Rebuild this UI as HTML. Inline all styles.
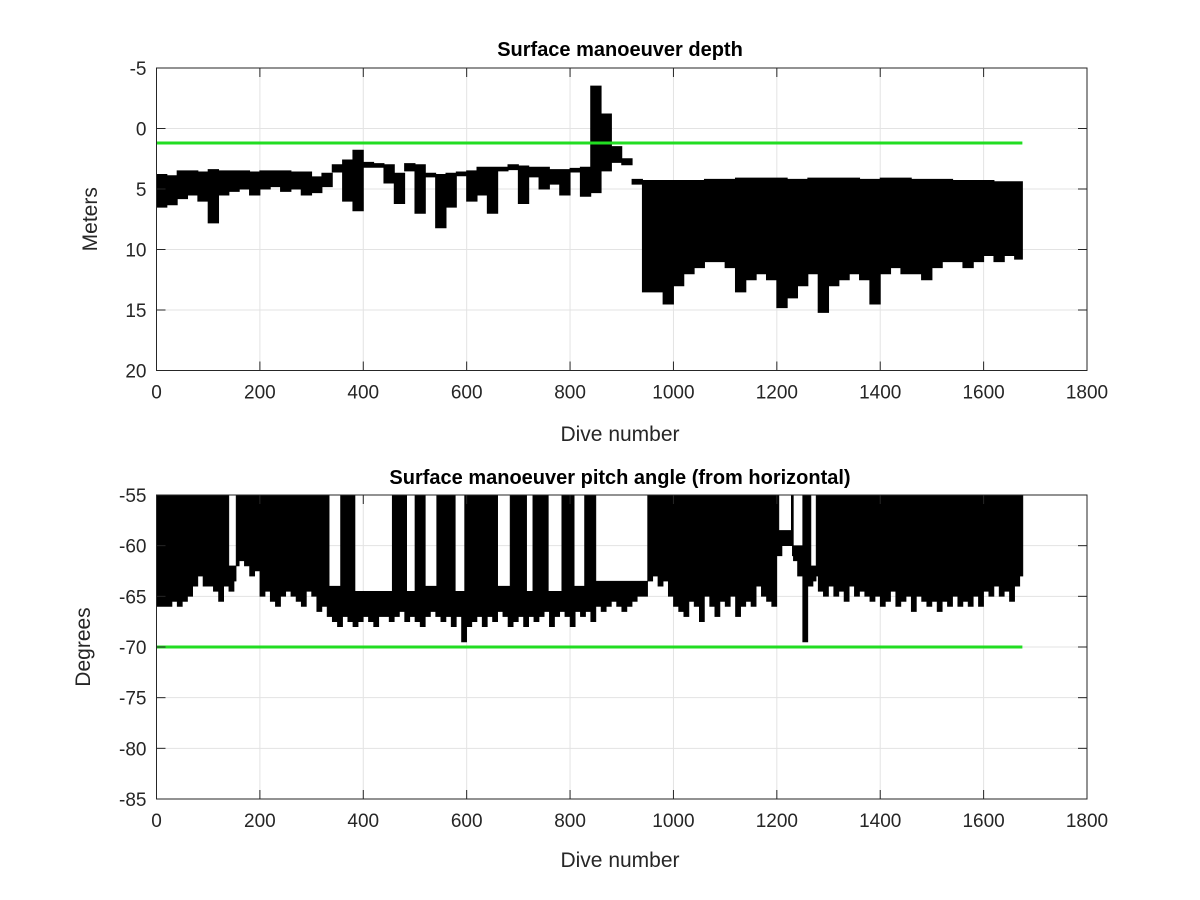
<!DOCTYPE html>
<html><head><meta charset="utf-8"><style>
html,body{margin:0;padding:0;background:#fff;}
svg{display:block;font-family:"Liberation Sans",Arial,sans-serif;}
</style></head><body>
<svg id="chart" width="1200" height="900" viewBox="0 0 1200 900">
<rect x="0" y="0" width="1200" height="900" fill="#fff"/>
<g id="p1"></g>
<g id="p2"></g>
</svg>
<script>
const xTicks = [0,200,400,600,800,1000,1200,1400,1600,1800];
const depthTicks = [-5,0,5,10,15,20];
const pitchTicks = [-55,-60,-65,-70,-75,-80,-85];
const depthThreshold = 1.2;
const pitchThreshold = -70;
const lastDive = 1675;
const depthBinSize = 20;
const depthTop = [3.8,3.9,3.5,3.5,3.6,3.4,3.5,3.5,3.5,3.6,3.5,3.5,3.5,3.6,3.6,4.0,3.7,3.0,2.6,1.8,2.8,2.9,3.0,3.7,2.9,3.0,3.7,3.8,3.7,3.6,3.5,3.2,3.2,3.2,3.0,3.1,3.2,3.2,3.4,3.4,3.3,3.2,-3.5,-1.2,1.5,2.5,4.2,
4.3,4.3,4.3,4.3,4.3,4.3,4.2,4.2,4.2,4.1,4.1,4.1,4.1,4.1,4.2,4.2,4.1,4.1,4.1,4.1,4.1,4.2,4.2,4.1,4.1,4.1,4.2,4.2,4.2,4.2,4.3,4.3,4.3,4.3,4.4,4.4,4.4];
const depthBottom = [6.5,6.3,5.8,5.5,6.0,7.8,5.5,5.2,5.0,5.5,5.0,4.8,5.2,5.0,5.5,5.3,4.8,3.6,6.0,6.8,3.2,3.2,4.5,6.2,3.5,7.0,4.0,8.2,6.5,3.9,6.0,5.5,7.0,3.5,3.4,6.2,4.0,5.0,4.6,5.5,3.6,5.6,5.3,3.5,2.8,3.0,4.6,
13.5,13.5,14.5,13,12,11.5,11,11,11.5,13.5,12.5,12,12.5,14.8,14,13,12,15.2,13,12.5,12,12.5,14.5,12,11.5,12,12,12.5,11.5,11,11,11.5,11,10.5,11,10.5,10.8];
const pitchBinSize = 10;
const pitchBottom = [-66,-66,-66,-65.5,-66,-65.5,-65,-64,-63,-64,-64,-64.5,-65.5,-64,-64.5,-62,-61.5,-62,-63,-62.5,
-65,-64.5,-65.5,-66,-65,-64.5,-65,-65.5,-66,-64.5,-65,-66.5,-66,-67,-67.5,-68,-67,-67.5,-68,-67.5,-67,-67.5,-68,-67,
-67,-67.5,-67,-66.5,-67.5,-67,-67.5,-68,-67,-66.5,-67,-67.5,-67,-68,-67,-69.5,-68,
-67.5,-67,-68,-67,-67.5,-66.5,-67,-68,-67.5,-67,-68,-67,-67.5,-67,-66.5,-68,
-67,-66.5,-67,-68,-66.5,-67,-66.5,-67.5,-66,-66.5,-66,-65.5,-66,-66.5,-66,-65.5,-65,-64.5,
-63.5,-63,-64,-63.5,-65,-66,-66.5,-67,-65.5,-66,-67.5,-65,-66,-67,-65.5,
-66,-65,-67,-66,-65.5,-66,-64,-65,-65.5,-66,-61,-59,-60,-61,-63,-69.5,
-64,-63,-64.5,-65,-64,-65,-64.5,-65.5,-64,-65,-64.5,-65,
-65.5,-65,-66,-65.5,-64.5,-66,-65.5,-65,-66.5,-65,-65.5,
-66,-65.5,-66.5,-65.5,-66,-65,-66,-65.5,-66,-65,-66,
-64.5,-65,-64,-65,-64.5,-65.5,-64,-63];
const gapStart = [140,334,384,484,520,578,660,716,757,807,850,1204,1232,1265];
const gapEnd   = [154,356,456,500,541,596,684,728,783,827,950,1227,1249,1276];
const gapTop   = [-62,-64,-64.5,-64.5,-64,-64.5,-64,-64.5,-64.5,-64,-63.5,-58.5,-60,-62];

const NS='http://www.w3.org/2000/svg';
function mk(tag,attrs,parent){const e=document.createElementNS(NS,tag);for(const k in attrs)e.setAttribute(k,attrs[k]);parent.appendChild(e);return e;}
const X0=156.5,X1=1087;
const sx=v=>X0+(v-0)/(1800-0)*(X1-X0);

function panel(g,top,bot,ymin,ymax,ticks,title,ylab,ylabX,titleY,pre){
  const sy=v=>top+(v-ymin)/(ymax-ymin)*(bot-top);
  for(const t of xTicks){const l=mk('line',{x1:sx(t),x2:sx(t),y1:top,y2:bot,stroke:'#e3e3e3','stroke-width':1},g);
    
    }
  for(const t of ticks){const l=mk('line',{x1:X0,x2:X1,y1:sy(t),y2:sy(t),stroke:'#e3e3e3','stroke-width':1},g);
    
    }
  return sy;
}
function frame(g,top,bot,ticks,sy,title,ylab,ylabX,titleY,xlY){
  const b=mk('rect',{x:X0,y:top,width:X1-X0,height:bot-top,fill:'none',stroke:'#262626','stroke-width':1},g);
  
  
  for(const t of xTicks){const x=sx(t);
    mk('line',{x1:x,x2:x,y1:bot,y2:bot-9,stroke:'#262626'},g);mk('line',{x1:x,x2:x,y1:top,y2:top+9,stroke:'#262626'},g);
    const tx=mk('text',{x:x,y:bot+28,'text-anchor':'middle','font-size':19,fill:'#262626'},g);tx.textContent=t;
    
    }
  for(const t of ticks){const y=sy(t);
    mk('line',{x1:X0,x2:X0+9,y1:y,y2:y,stroke:'#262626'},g);mk('line',{x1:X1,x2:X1-9,y1:y,y2:y,stroke:'#262626'},g);
    const tx=mk('text',{x:X0-10,y:y+7,'text-anchor':'end','font-size':19,fill:'#262626'},g);tx.textContent=t;
    
    }
  const ti=mk('text',{x:620,y:titleY,'text-anchor':'middle','font-size':20,'font-weight':'bold',fill:'#000'},g);ti.textContent=title;
  
  
  const xl=mk('text',{x:620,y:xlY,'text-anchor':'middle','font-size':21,fill:'#262626'},g);xl.textContent='Dive number';
  
  
  const cy=(top+bot)/2;
  const yl=mk('text',{x:ylabX,y:cy,'text-anchor':'middle','font-size':21,fill:'#262626',transform:`rotate(-90 ${ylabX} ${cy})`},g);yl.textContent=ylab;
  
  
}

// Panel 1: depth
const g1=document.getElementById('p1');
const T1=68,B1=370.5;
const sy1=panel(g1,T1,B1,-5,20,depthTicks);
let d1='';
for(let i=0;i<depthTop.length;i++){
  const a=i*depthBinSize,b=Math.min((i+1)*depthBinSize,lastDive);
  const y1=sy1(depthTop[i]),y2=sy1(depthBottom[i]);
  d1+=`M${sx(a).toFixed(2)},${y1.toFixed(2)}H${sx(b).toFixed(2)}V${y2.toFixed(2)}H${sx(a).toFixed(2)}Z`;
}
const s1=mk('path',{d:d1,fill:'#000',stroke:'#000','stroke-width':1},g1);


const th1=mk('line',{x1:sx(0),x2:sx(lastDive),y1:sy1(depthThreshold),y2:sy1(depthThreshold),stroke:'#22dd22','stroke-width':3},g1);


frame(g1,T1,B1,depthTicks,sy1,'Surface manoeuver depth','Meters',97,56,441);

// Panel 2: pitch
const g2=document.getElementById('p2');
const T2=495,B2=799;
const sy2=panel(g2,T2,B2,-55,-85,pitchTicks);
let d2='';
for(let d=0;d<lastDive;d+=2){
  const bi=Math.min(Math.floor(d/pitchBinSize),pitchBottom.length-1);
  let tp=-55;
  for(let k=0;k<gapStart.length;k++){if(d>=gapStart[k]&&d<gapEnd[k]){tp=gapTop[k];}}
  const bt=Math.min(pitchBottom[bi],tp-1.5);
  d2+=`M${sx(d).toFixed(2)},${sy2(tp).toFixed(2)}H${sx(d+2).toFixed(2)}V${sy2(bt).toFixed(2)}H${sx(d).toFixed(2)}Z`;
}
const s2=mk('path',{d:d2,fill:'#000',stroke:'#000','stroke-width':0.6},g2);


const th2=mk('line',{x1:sx(0),x2:sx(lastDive),y1:sy2(pitchThreshold),y2:sy2(pitchThreshold),stroke:'#22dd22','stroke-width':3},g2);


frame(g2,T2,B2,pitchTicks,sy2,'Surface manoeuver pitch angle (from horizontal)','Degrees',90,484,867);
</script>
</body></html>
